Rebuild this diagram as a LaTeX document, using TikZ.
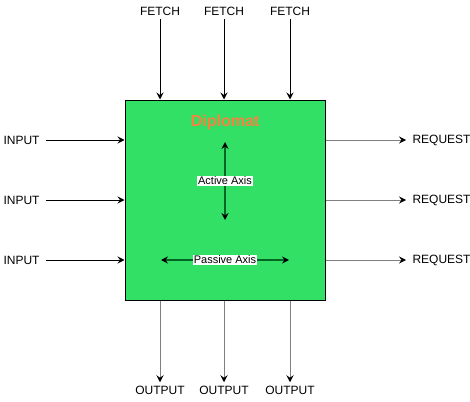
\documentclass[tikz,border=0pt]{standalone}
\usepackage{fontspec}
\setmainfont{Liberation Sans}
\usetikzlibrary{arrows.meta, positioning, calc}

\definecolor{boxgreen}{RGB}{51,224,102}
\definecolor{axisgreen}{RGB}{0,102,34}
\definecolor{titleorange}{RGB}{245,131,63}
\definecolor{linegray}{RGB}{128,128,128}

\begin{document}
\begin{tikzpicture}[
    x=1pt, y=-1pt,
    line width=1pt,
    every node/.style={font=\fontsize{12}{14}\selectfont, inner sep=0pt},
    core/.style={rectangle, draw, fill=boxgreen, minimum width=200pt, minimum height=200pt},
    port/.style={inner sep=3pt},
    axislabel/.style={fill=white, inner sep=1pt, font=\fontsize{11}{13}\selectfont},
    arrow/.style={-{Stealth[length=7pt, width=7pt, inset=2.5pt, color=black]}, #1},
    arrow/.default=black,
    axis/.style={{Stealth[length=7pt, width=7pt, inset=2.5pt, color=black]}-{Stealth[length=7pt, width=7pt, inset=2.5pt, color=black]}, axisgreen, line width=1.5pt}
]
\useasboundingbox (0,0) rectangle (470,401);

% Main block
\node[core] (dip) at (225,200) {};
\node[font=\bfseries\fontsize{16}{18}\selectfont, text=titleorange] (title) at (225,122) {Diplomat};

% Axes inside the block
\coordinate (acttop) at (225,142);
\coordinate (actbot) at (225,220);
\coordinate (pasl) at (161,260);
\coordinate (pasr) at (289,260);
\draw[axis] (acttop) -- (actbot);
\draw[axis] (pasl) -- (pasr);
\node[axislabel] (act) at (225,181) {Active Axis};
\node[axislabel] (pas) at (225,260) {Passive Axis};

% Fetch ports (top)
\foreach \i/\x in {1/160, 2/224, 3/290} {
    \node[port] (f\i) at (\x,11) {FETCH};
    \draw[arrow] (f\i.south) -- (f\i |- dip.north);
}

% Output ports (bottom)
\foreach \i/\x in {1/160, 2/224, 3/290} {
    \node[port] (o\i) at (\x,390) {OUTPUT};
    \draw[arrow=linegray] (o\i |- dip.south) -- (o\i.north);
}

% Input ports (left)
\foreach \i/\y in {1/140, 2/200, 3/260} {
    \node[port, anchor=west] (in\i) at (0,\y) {INPUT};
    \draw[arrow] ([xshift=3pt]in\i.east) -- (in\i -| dip.west);
}

% Request ports (right)
\foreach \i/\y in {1/140, 2/200, 3/260} {
    \node[port, anchor=west] (rq\i) at (409,\y) {REQUEST};
    \draw[arrow=linegray] (rq\i -| dip.east) -- ([xshift=-3pt]rq\i.west);
}

\end{tikzpicture}
\end{document}
